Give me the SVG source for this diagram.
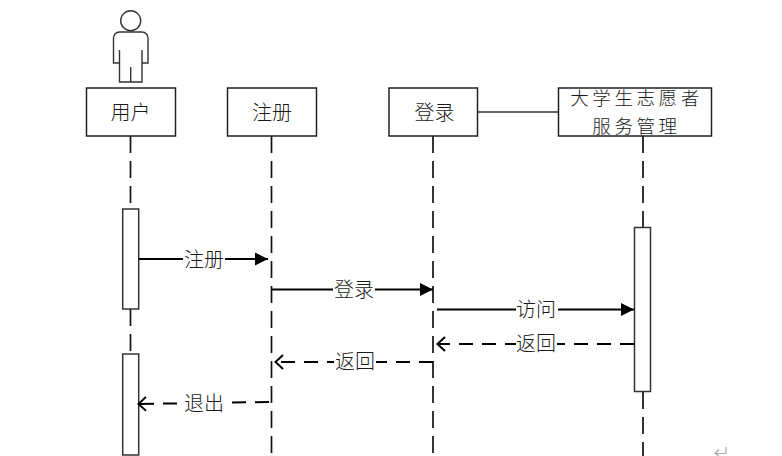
<svg xmlns="http://www.w3.org/2000/svg" width="782" height="456" viewBox="0 0 782 456">
<style>
.box{fill:#fff;stroke:#222;stroke-width:1.5}
.life{fill:none;stroke:#111;stroke-width:1.7;stroke-dasharray:17 8}
.act{fill:#fff;stroke:#333;stroke-width:1.5}
.solid{fill:none;stroke:#000;stroke-width:2}
.dash{fill:none;stroke:#000;stroke-width:2;stroke-dasharray:14 9}
.bg{fill:#fff;stroke:none}
.t{font-family:"Noto Sans CJK SC","Noto Sans",sans-serif;font-size:20px;fill:#1a1a1a;text-anchor:middle;dominant-baseline:central;font-weight:300}
.big{font-size:18.500px;letter-spacing:3.600px}
.actor{fill:#fff;stroke:#333;stroke-width:1.4}
</style>
<defs>
<marker id="tri" markerUnits="userSpaceOnUse" markerWidth="14" markerHeight="14" refX="13" refY="7" orient="auto"><path d="M0 0.5L13 7L0 13.500Z" fill="#000"/></marker>
<marker id="open" markerUnits="userSpaceOnUse" markerWidth="12" markerHeight="16" refX="10" refY="8" orient="auto"><path d="M2 1L9.500 8L2 15" fill="none" stroke="#000" stroke-width="2"/></marker>
</defs>
<rect width="782" height="456" fill="#fff"/>
<g id="lifelines">
<path class="life" d="M130.500 136V209M130.500 309V354"/>
<path class="life" d="M271.500 136V456"/>
<path class="life" d="M433 136V456"/>
<path class="life" d="M643 136V228M643 392V456"/>
</g>
<g id="actor">
<circle class="actor" cx="130.700" cy="20.700" r="10"/>
<path class="actor" d="M119.500 32H142A6 6 0 0 1 148 38V63H142V50V82H119.500V50V63H113.500V38A6 6 0 0 1 119.500 32Z"/>
<path class="actor" d="M130.700 67V82"/>
</g>
<g id="node-user"><rect class="box" x="86.500" y="88" width="89" height="48"/><text class="t" x="130.500" y="111">用户</text></g>
<g id="node-register"><rect class="box" x="227.500" y="88" width="89" height="48"/><text class="t" x="272" y="111">注册</text></g>
<g id="node-login"><rect class="box" x="389" y="88" width="88.500" height="48"/><text class="t" x="434.500" y="111">登录</text></g>
<g id="node-system"><rect class="box" x="558.500" y="88" width="153" height="48"/><text class="t big"><tspan x="636.500" y="97">大学生志愿者</tspan><tspan x="636.500" y="124.500">服务管理</tspan></text></g>
<g id="act-1"><rect class="act" x="122.700" y="209" width="16" height="100"/></g>
<g id="act-2"><rect class="act" x="122.700" y="354" width="16" height="101"/></g>
<g id="act-3"><rect class="act" x="634.500" y="227.500" width="16" height="164"/></g>
<g id="connectors">
<path d="M477.500 112H558.500" fill="none" stroke="#333" stroke-width="1.300"/>
<path class="solid" marker-end="url(#tri)" d="M139 259H268"/>
<path class="solid" marker-end="url(#tri)" d="M272 289.500H433"/>
<path class="solid" marker-end="url(#tri)" d="M437 309.500H634"/>
<path class="dash" marker-end="url(#open)" d="M634 344H437"/>
<path class="dash" marker-end="url(#open)" d="M433 362H275"/>
<path class="dash" marker-end="url(#open)" d="M269 402L138 404"/>
</g>
<g id="labels">
<rect class="bg" x="183" y="248" width="42" height="22"/><text class="t" x="204" y="258.500">注册</text>
<rect class="bg" x="333" y="278" width="42" height="22"/><text class="t" x="354" y="288.500">登录</text>
<rect class="bg" x="516" y="298" width="42" height="22"/><text class="t" x="536" y="308.500">访问</text>
<rect class="bg" x="516" y="333" width="41" height="22"/><text class="t" x="536" y="342.500">返回</text>
<rect class="bg" x="334" y="351" width="42" height="22"/><text class="t" x="355" y="360.500">返回</text>
<rect class="bg" x="180" y="392" width="48" height="22"/><text class="t" x="204" y="402.500">退出</text>
</g>
<path d="M726 447V453.500H715M719 449.500L715 453.500L719 456" fill="none" stroke="#aaa" stroke-width="1.200"/>
</svg>
